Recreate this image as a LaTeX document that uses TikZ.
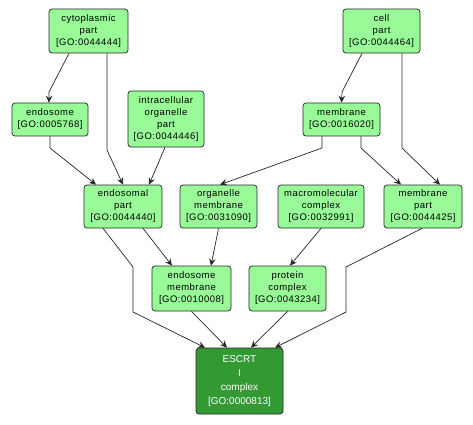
\documentclass[tikz,border=0pt]{standalone}
\usepackage{fontspec}
\setmainfont{Liberation Sans}
\newfontfamily\spaced[LetterSpace=5]{Liberation Sans}
\usetikzlibrary{arrows.meta}
\definecolor{lightgo}{RGB}{152,251,152}
\definecolor{darkgo}{RGB}{51,153,51}
\tikzset{
  gobox/.style={draw=black!85, line width=0.7pt, fill=lightgo, rounded corners=3pt,
    inner sep=0pt, align=center, font=\spaced\fontsize{9.5}{12}\selectfont},
  gohi/.style={gobox, fill=darkgo, text=white, font=\fontsize{10}{14.3}\selectfont},
  edge/.style={draw=black!85, line width=0.7pt, -{Stealth[length=7pt,width=6.5pt,inset=2.5pt]}}
}
\begin{document}
\begin{tikzpicture}[x=1pt,y=1pt]
\useasboundingbox (0,0) rectangle (473,424);
\node[gobox, minimum width=79pt, minimum height=44pt] (cyto) at (88.5,393) {cytoplasmic\\part\\{[GO:0044444]}};
\node[gobox, minimum width=77pt, minimum height=44pt] (cell) at (381.5,393) {cell\\part\\{[GO:0044464]}};
\node[gobox, minimum width=76pt, minimum height=33pt] (endosome) at (50,304.5) {endosome\\{[GO:0005768]}};
\node[gobox, minimum width=76pt, minimum height=56pt] (intra) at (166,305) {intracellular\\organelle\\part\\{[GO:0044446]}};
\node[gobox, minimum width=77pt, minimum height=33pt] (membrane) at (341.5,304.5) {membrane\\{[GO:0016020]}};
\node[gobox, minimum width=78pt, minimum height=43pt] (endosomal) at (123,217.5) {endosomal\\part\\{[GO:0044440]}};
\node[gobox, minimum width=77pt, minimum height=43pt] (orgmem) at (218.5,217.5) {organelle\\membrane\\{[GO:0031090]}};
\node[gobox, minimum width=86pt, minimum height=43pt] (macro) at (321,217.5) {macromolecular\\complex\\{[GO:0032991]}};
\node[gobox, minimum width=78pt, minimum height=43pt] (mempart) at (423,217.5) {membrane\\part\\{[GO:0044425]}};
\node[gobox, minimum width=79pt, minimum height=45pt] (endmem) at (191.5,135.5) {endosome\\membrane\\{[GO:0010008]}};
\node[gobox, minimum width=77pt, minimum height=45pt] (protein) at (287.5,135.5) {protein\\complex\\{[GO:0043234]}};
\node[gohi, minimum width=87pt, minimum height=66pt] (escrt) at (239.5,43) {ESCRT\\I\\complex\\{[GO:0000813]}};

\coordinate (b1) at (49,332);
\coordinate (b2) at (107,274);
\coordinate (b3) at (50,276);
\coordinate (b5) at (342,332);
\coordinate (b6) at (402,276);
\coordinate (b7) at (322,276);
\coordinate (b8) at (361,276);
\coordinate (b12a) at (133,157);
\coordinate (b12b) at (133,112);
\coordinate (b15a) at (346,157);
\coordinate (b15b) at (346,112);

\draw[edge] ([xshift=-19.5pt]cyto.south) -- (b1) -- ([xshift=-1pt]endosome.north);
\draw[edge] ([xshift=18.5pt]cyto.south) -- (b2) -- (endosomal.north);
\draw[edge] (endosome.south) -- (b3) -- ([xshift=-27pt]endosomal.north);
\draw[edge] ([xshift=-1pt]intra.south) -- ([xshift=26pt]endosomal.north);
\draw[edge] ([xshift=-19.5pt]cell.south) -- (b5) -- (membrane.north);
\draw[edge] ([xshift=20.5pt]cell.south) -- (b6) -- ([xshift=17pt]mempart.north);
\draw[edge] ([xshift=-19.5pt]membrane.south) -- (b7) -- ([xshift=1.5pt]orgmem.north);
\draw[edge] ([xshift=19.5pt]membrane.south) -- (b8) -- ([xshift=-22pt]mempart.north);
\draw[edge] ([xshift=20pt]endosomal.south) -- ([xshift=-19.5pt]endmem.north);
\draw[edge] (orgmem.south) -- ([xshift=19.5pt]endmem.north);
\draw[edge] (macro.south) -- ([xshift=2.5pt]protein.north);
\draw[edge] ([xshift=-20pt]endosomal.south) -- (b12a) -- (b12b) -- ([xshift=-34.5pt]escrt.north);
\draw[edge] (endmem.south) -- ([xshift=-12.5pt]escrt.north);
\draw[edge] (protein.south) -- ([xshift=11.5pt]escrt.north);
\draw[edge] ([xshift=-1pt]mempart.south) -- (b15a) -- (b15b) -- ([xshift=35.5pt]escrt.north);
\end{tikzpicture}
\end{document}
